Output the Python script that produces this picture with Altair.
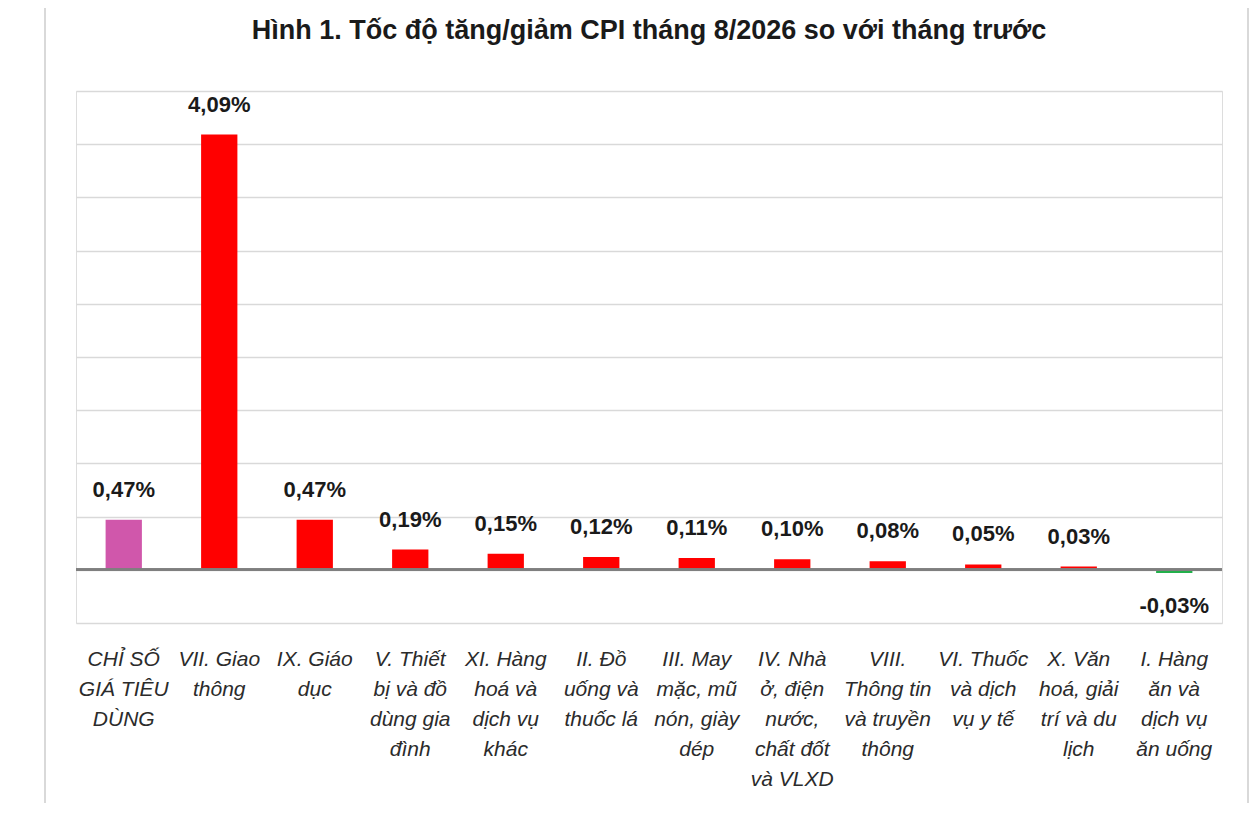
import pandas as pd
import altair as alt

TITLE = "Hình 1. Tốc độ tăng/giảm CPI tháng 8/2026 so với tháng trước"

CATEGORY_LINES = [
    ["CHỈ SỐ", "GIÁ TIÊU", "DÙNG"],
    ["VII. Giao", "thông"],
    ["IX. Giáo", "dục"],
    ["V. Thiết", "bị và đồ", "dùng gia", "đình"],
    ["XI. Hàng", "hoá và", "dịch vụ", "khác"],
    ["II. Đồ", "uống và", "thuốc lá"],
    ["III. May", "mặc, mũ", "nón, giày", "dép"],
    ["IV. Nhà", "ở, điện", "nước,", "chất đốt", "và VLXD"],
    ["VIII.", "Thông tin", "và truyền", "thông"],
    ["VI. Thuốc", "và dịch", "vụ y tế"],
    ["X. Văn", "hoá, giải", "trí và du", "lịch"],
    ["I. Hàng", "ăn và", "dịch vụ", "ăn uống"],
]
VALUES = [0.47, 4.09, 0.47, 0.19, 0.15, 0.12, 0.11, 0.10, 0.08, 0.05, 0.03, -0.03]
KINDS = ["index"] + ["group"] * 11

GRID_VALUES = [-0.5, 0, 0.5, 1, 1.5, 2, 2.5, 3, 3.5, 4, 4.5]

FONT = "Liberation Sans"

df = pd.DataFrame({
    "cat": ["|".join(lines) for lines in CATEGORY_LINES],
    "value": VALUES,
    "kind": KINDS,
})
df["sign"] = ["neg" if v < 0 else "pos" for v in df["value"]]
df["color_key"] = [k if s == "pos" else "neg" for k, s in zip(df["kind"], df["sign"])]
df["label"] = [f"{v:.2f}".replace(".", ",") + "%" for v in df["value"]]

order = list(df["cat"])

x_enc = alt.X(
    "cat:N",
    sort=order,
    title=None,
    scale=alt.Scale(paddingInner=0.62, paddingOuter=0.31),
    axis=alt.Axis(
        labelAngle=0,
        labelExpr="split(datum.value, '|')",
        labelFont=FONT,
        labelFontSize=21,
        labelFontStyle="italic",
        labelColor="#2b2b2b",
        labelLineHeight=30,
        labelPadding=25,
        labelLimit=200,
        domain=False,
        ticks=False,
        grid=False,
    ),
)
y_scale = alt.Scale(domain=[-0.5, 4.5], nice=False)

base = alt.Chart(df)

bars = base.mark_bar().encode(
    x=x_enc,
    y=alt.Y(
        "value:Q",
        scale=y_scale,
        title=None,
        axis=alt.Axis(
            values=GRID_VALUES,
            labels=False,
            ticks=False,
            domain=False,
            grid=True,
            gridColor="#d9d9d9",
            gridWidth=1.5,
        ),
    ),
    color=alt.Color(
        "color_key:N",
        scale=alt.Scale(domain=["index", "group", "neg"], range=["#d057ab", "#ff0000", "#22b04b"]),
        legend=None,
    ),
)

zero = base.mark_rule(color="#7f7f7f", strokeWidth=2).encode(y=alt.datum(0))

pos_labels = base.transform_filter("datum.value >= 0").mark_text(
    font=FONT, fontSize=22, fontWeight="bold", color="#1a1a1a", baseline="middle", dy=-30
).encode(x=alt.X("cat:N", sort=order), y="value:Q", text="label:N")

neg_labels = base.transform_filter("datum.value < 0").mark_text(
    font=FONT, fontSize=22, fontWeight="bold", color="#1a1a1a", baseline="middle", dy=33
).encode(x=alt.X("cat:N", sort=order), y="value:Q", text="label:N")

left_border = alt.Chart(df.head(1)).mark_rule(color="#d9d9d9", strokeWidth=2).encode(
    x=alt.value(-31), y=alt.value(-83), y2=alt.value(712)
)
right_border = alt.Chart(df.head(1)).mark_rule(color="#d9d9d9", strokeWidth=2).encode(
    x=alt.value(1172), y=alt.value(-83), y2=alt.value(712)
)

chart = (
    alt.layer(bars, zero, pos_labels, neg_labels, left_border, right_border)
    .properties(
        width=1146,
        height=532,
        title=alt.TitleParams(
            TITLE, font=FONT, fontSize=27, fontWeight="bold", color="#1a1a1a",
            offset=-38, anchor="middle", frame="group",
        ),
        padding={"left": 68, "top": 83, "right": 29, "bottom": 180},
        autosize=alt.AutoSizeParams(type="none"),
    )
    .configure_view(stroke=None)
    .configure(background="white")
)

chart.save("out.html", embed_options={"renderer": "svg", "actions": False})
